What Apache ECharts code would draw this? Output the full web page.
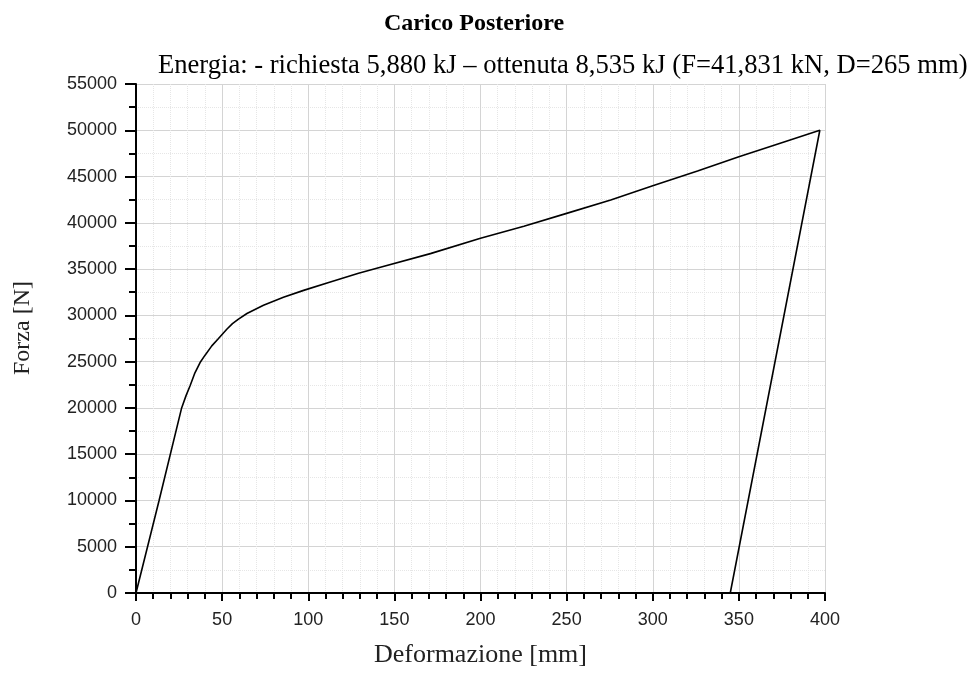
<!DOCTYPE html>
<html>
<head>
<meta charset="utf-8">
<script src="https://cdn.jsdelivr.net/npm/echarts@6/dist/echarts.min.js"></script>
<style>
html,body{margin:0;padding:0;background:#fff;}
#chart{width:973px;height:673px;}
</style>
</head>
<body>
<div id="chart"></div>
<script>
var titleText = 'Carico Posteriore';
var subtitleText = 'Energia: - richiesta 5,880 kJ \u2013 ottenuta 8,535 kJ (F=41,831 kN, D=265 mm)';
var xAxisName = 'Deformazione [mm]';
var yAxisName = 'Forza [N]';

// Deformazione [mm]
var deformation = [0, 13.4, 26.5, 29, 31.4, 34, 37.2, 40.1, 44, 47.9, 52.7, 56, 59.5, 64.4, 74, 85.6, 97.3, 112.8, 129.2, 141.9, 170.9, 200, 225.2, 250, 275.6, 300, 326, 350, 374, 397, 345];
// Forza [N]
var force = [0, 10000, 20000, 21300, 22400, 23700, 24900, 25700, 26700, 27500, 28500, 29100, 29600, 30200, 31100, 31950, 32700, 33600, 34550, 35200, 36670, 38330, 39620, 41020, 42460, 44000, 45600, 47150, 48600, 50000, 0];

var points = deformation.map(function (d, i) { return [d, force[i]]; });

var chart = echarts.init(document.getElementById('chart'));
var serif = "'Liberation Serif', 'Times New Roman', serif";
var sans = "'Liberation Sans', Arial, sans-serif";

chart.setOption({
  animation: false,
  backgroundColor: '#fff',
  title: [
    { text: titleText, left: 379, top: 7,
      textStyle: { fontFamily: serif, fontWeight: 'bold', fontSize: 24, color: '#000' } },
    { text: subtitleText, left: 153, top: 48,
      textStyle: { fontFamily: serif, fontWeight: 'normal', fontSize: 26.6, color: '#000' } }
  ],
  grid: { left: 136, right: 148, top: 84, bottom: 78, containLabel: false },
  graphic: [{
    type: 'text',
    x: 23, y: 328,
    rotation: Math.PI / 2,
    style: { text: yAxisName, font: "24px 'Liberation Serif', 'Times New Roman', serif",
             fill: '#222', align: 'center', verticalAlign: 'middle' }
  }],
  xAxis: {
    type: 'value', min: 0, max: 400, interval: 50,
    name: xAxisName, nameLocation: 'middle', nameGap: 49, nameMoveOverlap: false,
    nameTextStyle: { fontFamily: serif, fontSize: 26, color: '#222' },
    axisLine: { show: true, onZero: false, lineStyle: { color: '#000', width: 2 } },
    axisTick: { show: true, length: 8, lineStyle: { color: '#000', width: 2 } },
    minorTick: { show: true, splitNumber: 5, length: 6, lineStyle: { color: '#000', width: 2 } },
    axisLabel: { fontFamily: sans, fontSize: 18, color: '#222', margin: 18 },
    splitLine: { show: true, lineStyle: { color: '#d4d4d4', width: 1 } },
    minorSplitLine: { show: true, lineStyle: { color: '#e6e6e6', width: 1, type: 'dotted' } }
  },
  yAxis: {
    type: 'value', min: 0, max: 55000, interval: 5000,
    axisLine: { show: true, onZero: false, lineStyle: { color: '#000', width: 2 } },
    axisTick: { show: true, length: 11, lineStyle: { color: '#000', width: 2 } },
    minorTick: { show: true, splitNumber: 2, length: 7, lineStyle: { color: '#000', width: 2 } },
    axisLabel: { fontFamily: sans, fontSize: 18, color: '#222', margin: 19,
                 formatter: function (v) { return String(v); } },
    splitLine: { show: true, lineStyle: { color: '#d4d4d4', width: 1 } },
    minorSplitLine: { show: true, lineStyle: { color: '#e6e6e6', width: 1, type: 'dotted' } }
  },
  series: [{
    type: 'line',
    data: points,
    showSymbol: false,
    smooth: false,
    lineStyle: { color: '#000', width: 1.6 },
    clip: false
  }]
});
</script>
</body>
</html>
